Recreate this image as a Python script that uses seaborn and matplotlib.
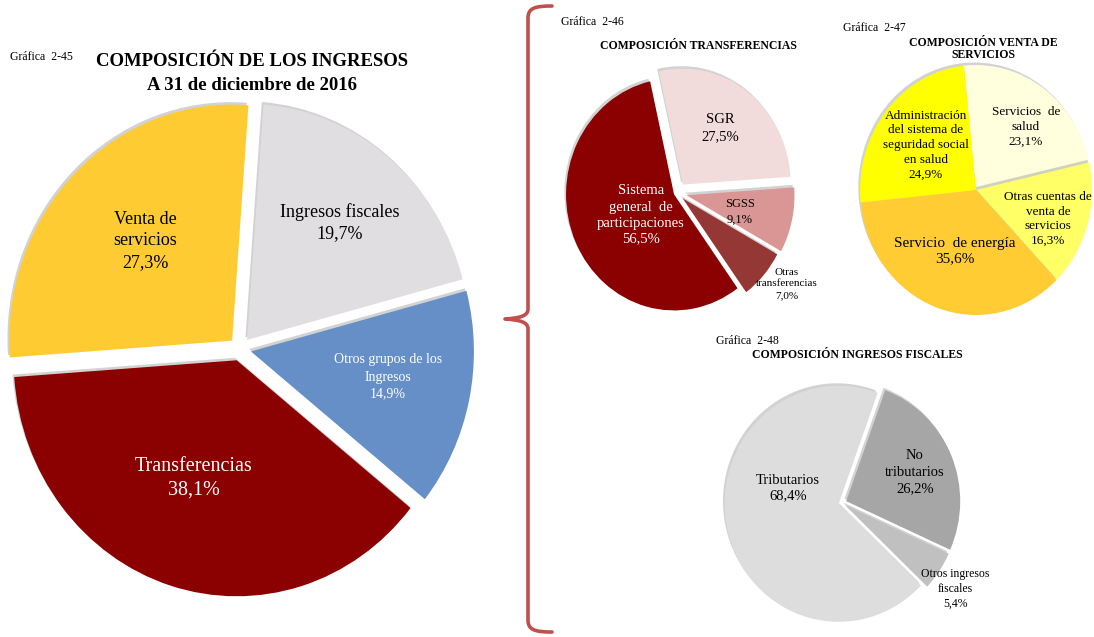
import numpy as np
import pandas as pd
import seaborn as sns
import matplotlib
matplotlib.use("Agg")
import matplotlib.pyplot as plt
from matplotlib.path import Path
from matplotlib.patches import PathPatch
import matplotlib.patheffects as pe

# ---- data -------------------------------------------------------------
ingresos_labels = ["Ingresos fiscales", "Otros grupos de los\nIngresos", "Transferencias", "Venta de\nservicios"]
ingresos_values = [19.7, 14.9, 38.1, 27.3]

transf_labels = ["SGR", "SGSS", "Otras\ntransferencias", "Sistema\ngeneral  de\nparticipaciones"]
transf_values = [27.5, 9.1, 7.0, 56.5]

venta_labels = ["Servicios  de\nsalud", "Otras cuentas de\nventa de\nservicios", "Servicio  de energía",
                "Administración\ndel sistema de\nseguridad social\nen salud"]
venta_values = [23.1, 16.3, 35.6, 24.9]

fiscal_labels = ["No\ntributarios", "Otros ingresos\nfiscales", "Tributarios"]
fiscal_values = [26.2, 5.4, 68.4]

# ---- style ------------------------------------------------------------
sns.set_theme(style="white")
plt.rcParams["font.family"] = ["Liberation Serif", "DejaVu Serif"]

W, H = 1094, 637
fig = plt.figure(figsize=(W / 100, H / 100), dpi=100)
fig.patch.set_facecolor("white")

PAD = 1.6


def pct(v):
    return f"{v:.1f}".replace(".", ",") + "%"


def fx(px):
    return px / W


def fy(py):
    return 1 - py / H


def draw_pie(cx, cy, rx, ry, values, colors, start, explode):
    ax = fig.add_axes([fx(cx - PAD * rx), fy(cy + PAD * ry), 2 * PAD * rx / W, 2 * PAD * ry / H])
    wedges, _ = ax.pie(values, colors=colors, startangle=start, counterclock=False,
                       explode=explode, wedgeprops=dict(linewidth=0))
    for w in wedges:
        w.set_path_effects([pe.SimplePatchShadow(offset=(-1.2, 1.8), shadow_rgbFace="#7f7f7f", alpha=0.35),
                            pe.Normal()])
    ax.set_aspect("auto")
    ax.set_xlim(-PAD, PAD)
    ax.set_ylim(-PAD, PAD)
    ax.axis("off")
    return ax


def label(px, py, text, size, color="black", weight="normal", ha="center", ls=1.0):
    fig.text(fx(px), fy(py), text, fontsize=size, color=color, weight=weight,
             ha=ha, va="center", linespacing=ls, multialignment="center")


# ---- main pie: composition of income ----------------------------------
draw_pie(240, 349, 223, 236, ingresos_values,
         ["#E0DEE0", "#658FC6", "#8B0000", "#FECB32"], 85.8, [0.05] * 4)

label(10, 57, "Gráfica  2-45", 8.5, ha="left")
label(252, 62, "COMPOSICIÓN DE LOS INGRESOS", 13.5, weight="bold")
label(252, 86, "A 31 de diciembre de 2016", 13.5, weight="bold")

label(340, 223, f"{ingresos_labels[0]}\n{pct(ingresos_values[0])}", 13, ls=1.3)
label(388, 377, f"{ingresos_labels[1]}\n{pct(ingresos_values[1])}", 10, color="white", ls=1.4)
label(194, 478, f"{ingresos_labels[2]}\n{pct(ingresos_values[2])}", 14.5, color="white", ls=1.35)
label(145, 241, f"{ingresos_labels[3]}\n{pct(ingresos_values[3])}", 13, ls=1.35)

# ---- 2-46 transfers ---------------------------------------------------
draw_pie(677, 193, 108, 116, transf_values,
         ["#F2DCDB", "#D99694", "#953735", "#8B0000"], 102.8, [0.09, 0.09, 0.07, 0.03])

label(561, 22, "Gráfica  2-46", 8.5, ha="left")
label(698, 46, "COMPOSICIÓN TRANSFERENCIAS", 8.5, weight="bold")
label(720, 128, f"{transf_labels[0]}\n{pct(transf_values[0])}", 10.5, ls=1.35)
label(740, 212, f"{transf_labels[1]}\n{pct(transf_values[1])}", 9, ls=1.4)
label(787, 284, f"{transf_labels[2]}\n{pct(transf_values[2])}", 8, ls=1.35)
label(641, 215, f"{transf_labels[3]}\n{pct(transf_values[3])}", 10.5, color="white", ls=1.3)

# ---- 2-47 sale of services --------------------------------------------
draw_pie(976, 190, 116, 125, venta_values,
         ["#FFFFDD", "#FFFF66", "#FFCC33", "#FFFF00"], 96, [0.0] * 4)

label(843, 28, "Gráfica  2-47", 8.5, ha="left")
label(983, 49, "COMPOSICIÓN VENTA DE\nSERVICIOS", 8.5, weight="bold", ls=1.1)
label(1026, 127, f"{venta_labels[0]}\n{pct(venta_values[0])}", 9.5, ls=1.35)
label(1048, 219, f"{venta_labels[1]}\n{pct(venta_values[1])}", 9.5, ls=1.3)
label(955, 251, f"{venta_labels[2]}\n{pct(venta_values[2])}", 11, ls=1.3)
label(926, 145, f"{venta_labels[3]}\n{pct(venta_values[3])}", 9.5, ls=1.3)

# ---- 2-48 tax income --------------------------------------------------
draw_pie(842, 503, 114, 118, fiscal_values,
         ["#A6A6A6", "#C0C0C0", "#DDDDDD"], 70, [0.04, 0.03, 0.03])

label(716, 341, "Gráfica  2-48", 8.5, ha="left")
label(857, 355, "COMPOSICIÓN INGRESOS FISCALES", 8.5, weight="bold")
label(915, 472, f"{fiscal_labels[0]}\n{pct(fiscal_values[0])}", 10.5, ls=1.35)
label(955, 589, f"{fiscal_labels[1]}\n{pct(fiscal_values[1])}", 8.5, ls=1.35)
label(788, 488, f"{fiscal_labels[2]}\n{pct(fiscal_values[2])}", 10.5, ls=1.3)

# ---- curly brace linking the detail charts ----------------------------
bx, btop, bmid, bbot = 528, 6, 319, 632
verts = [(fx(552), fy(btop)), (fx(535), fy(btop)), (fx(bx), fy(btop + 2)), (fx(bx), fy(btop + 12)),
         (fx(bx), fy(bmid - 10)),
         (fx(bx), fy(bmid - 3)), (fx(520), fy(bmid - 1)), (fx(505), fy(bmid)),
         (fx(520), fy(bmid + 1)), (fx(bx), fy(bmid + 3)), (fx(bx), fy(bmid + 10)),
         (fx(bx), fy(bbot - 12)),
         (fx(bx), fy(bbot - 2)), (fx(535), fy(bbot)), (fx(552), fy(bbot))]
codes = [Path.MOVETO, Path.CURVE4, Path.CURVE4, Path.CURVE4,
         Path.LINETO,
         Path.CURVE4, Path.CURVE4, Path.CURVE4,
         Path.CURVE4, Path.CURVE4, Path.CURVE4,
         Path.LINETO,
         Path.CURVE4, Path.CURVE4, Path.CURVE4]
brace = PathPatch(Path(verts, codes), transform=fig.transFigure, fill=False,
                  edgecolor="#C0504D", linewidth=2.6, capstyle="round", joinstyle="round")
fig.add_artist(brace)

fig.savefig("out.png", dpi=100, facecolor="white")
